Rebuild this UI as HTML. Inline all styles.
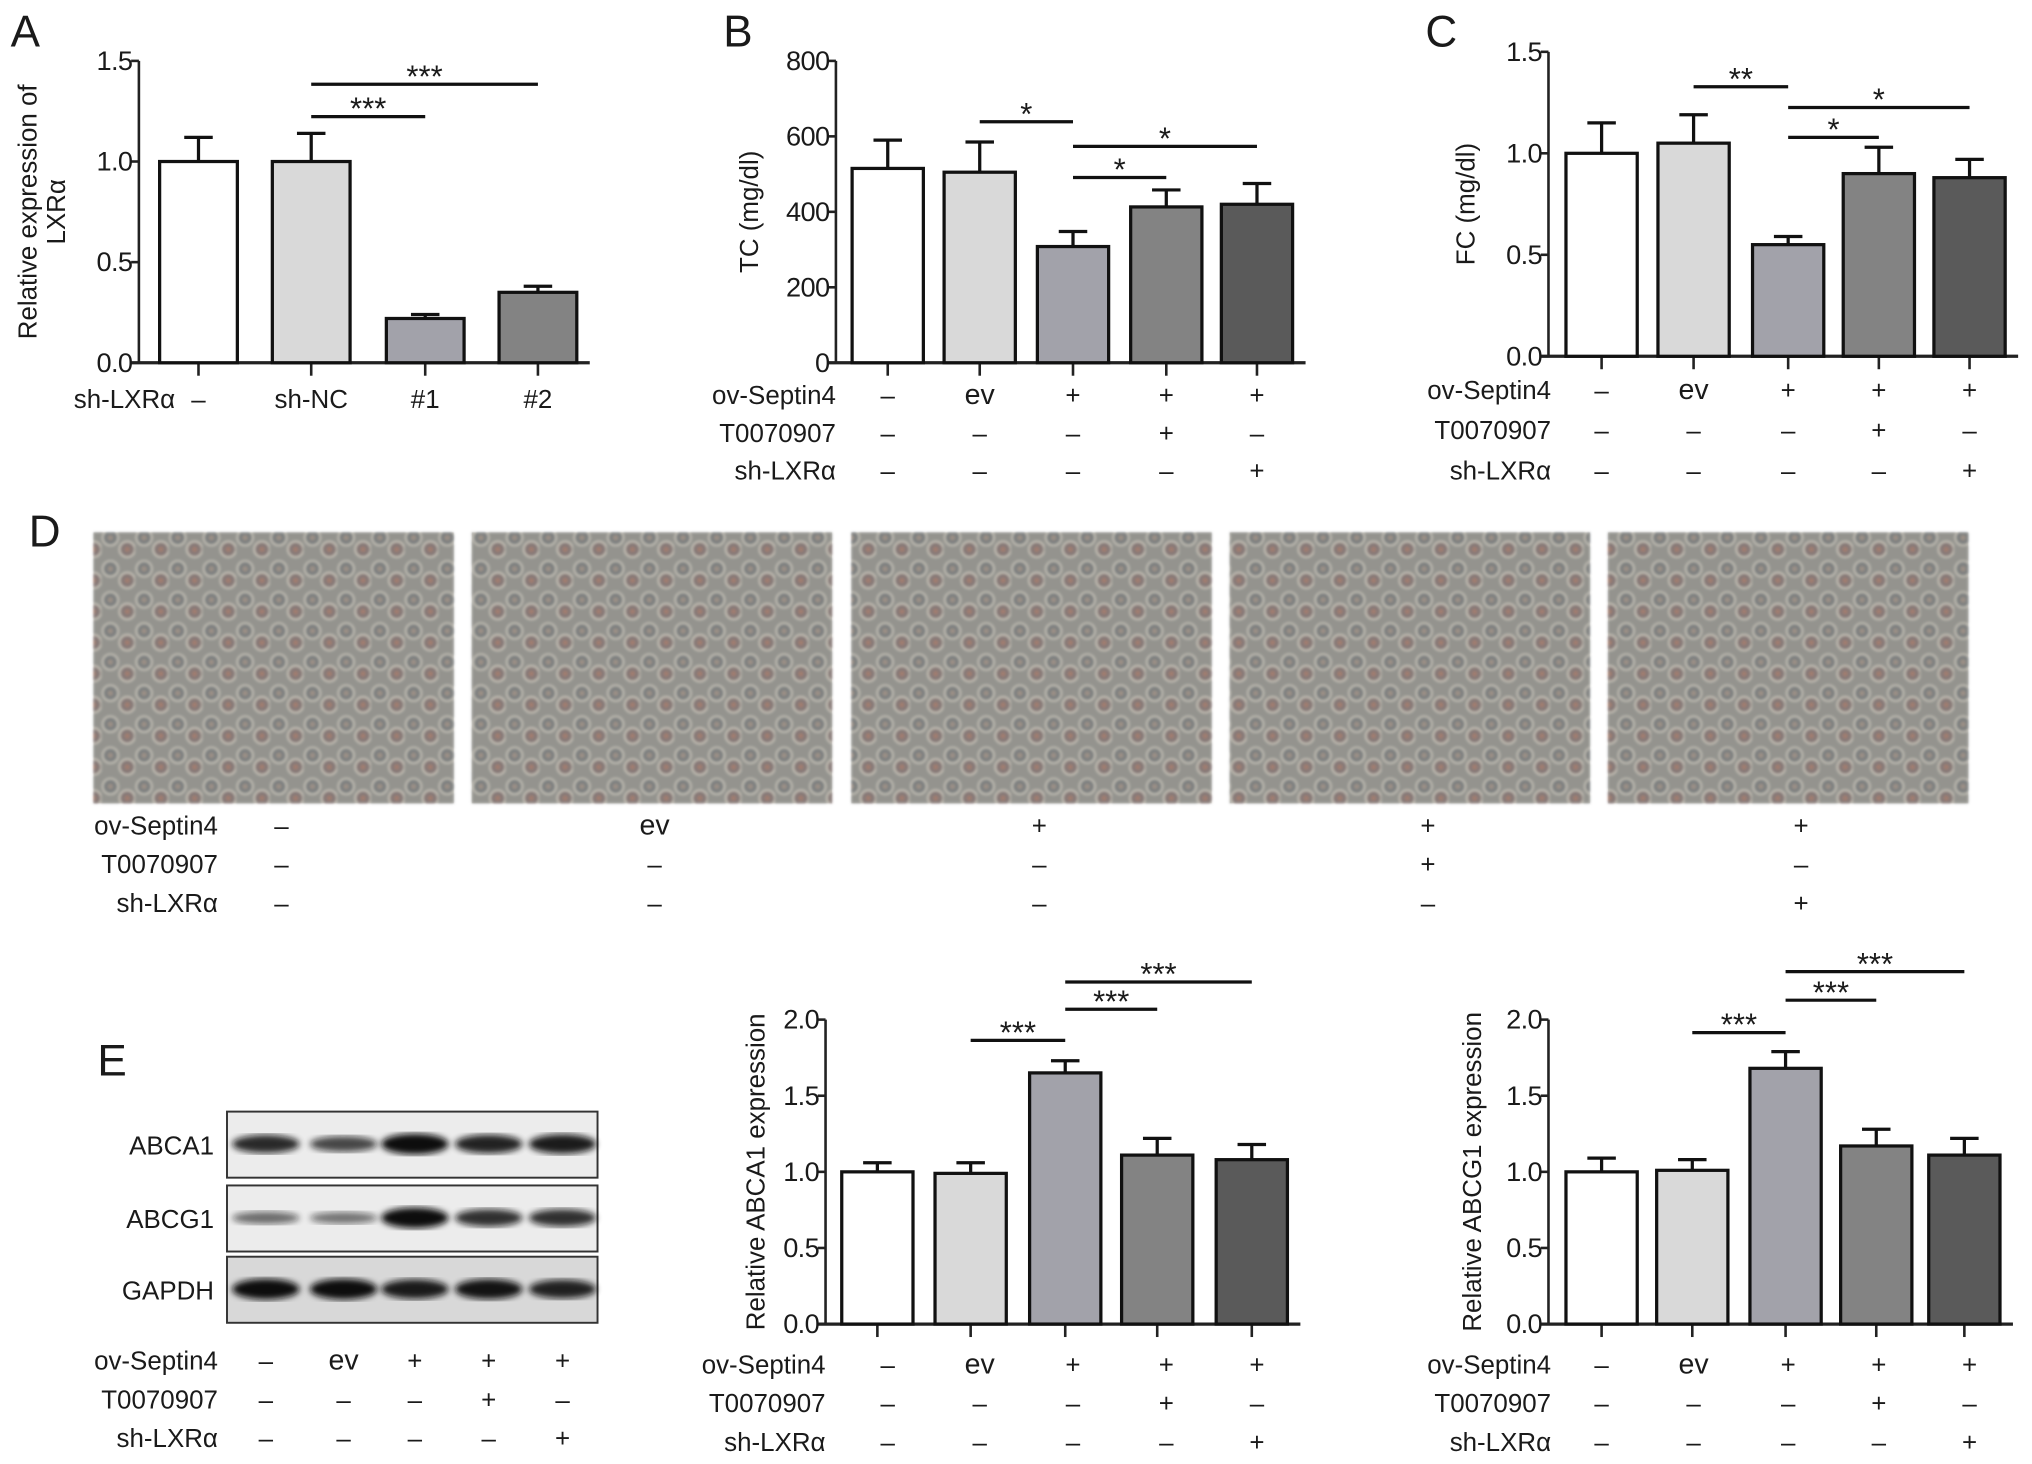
<!DOCTYPE html>
<html><head><meta charset="utf-8"><style>
html,body{margin:0;padding:0;background:#fff}
svg{display:block}
text{font-family:"Liberation Sans",sans-serif;fill:#1a1a1a}
</style></head><body>
<svg id="fig" width="2032" height="1464" viewBox="0 0 1568 1130" xmlns="http://www.w3.org/2000/svg">
<defs>
<pattern id="cells" width="26" height="24" patternUnits="userSpaceOnUse">
<rect width="26" height="24" fill="#8e8f8c"/>
<circle cx="7" cy="7" r="6" fill="#6f7478" stroke="#c9c6bd" stroke-width="1.5"/>
<circle cx="20" cy="16" r="6" fill="#7d6a6c" stroke="#cfcac0" stroke-width="1.5"/>
<circle cx="7" cy="7" r="2" fill="#9a8a80"/>
<circle cx="20" cy="16" r="2" fill="#a07060"/>
</pattern>
<filter id="blur"><feGaussianBlur stdDeviation="2.5"/></filter>
<filter id="soft"><feGaussianBlur stdDeviation="1"/></filter>
</defs>
<g id="root"></g>
</svg>
<script>
const NS="http://www.w3.org/2000/svg";
const root=document.getElementById('root');
function el(tag,attrs,parent,txt){const e=document.createElementNS(NS,tag);for(const k in attrs)e.setAttribute(k,attrs[k]);if(txt!==undefined)e.textContent=txt;(parent||root).appendChild(e);return e;}

// ---- data ----
const fills=["#ffffff","#d9d9d9","#a2a2aa","#838383","#5a5a5a"];
const aCats=["–","sh-NC","#1","#2"];
const aVals=[1.0,1.0,0.22,0.35];
const aErrs=[0.12,0.14,0.02,0.03];
const aTicks=[0,0.5,1.0,1.5];
const bVals=[515,505,308,413,420];
const bErrs=[75,80,40,45,55];
const bTicks=[0,200,400,600,800];
const cVals=[1.0,1.05,0.55,0.9,0.88];
const cErrs=[0.15,0.14,0.04,0.13,0.09];
const cTicks=[0,0.5,1.0,1.5];
const eaVals=[1.0,0.99,1.65,1.11,1.08];
const eaErrs=[0.06,0.07,0.08,0.11,0.1];
const egVals=[1.0,1.01,1.68,1.17,1.11];
const egErrs=[0.09,0.07,0.11,0.11,0.11];
const eTicks=[0,0.5,1.0,1.5,2.0];
const rowOv=["–","ev","+","+","+"];
const rowT=["–","–","–","+","–"];
const rowSh=["–","–","–","–","+"];

function chart(o){
  const g=el('g',{});  
  const max=o.ticks[o.ticks.length-1];
  const y=v=>o.y0-(v/max)*(o.y0-o.yTop);
  el('line',{x1:o.ax,y1:o.yTop,x2:o.ax,y2:o.y0,stroke:'#222','stroke-width':2},g);
  const xEnd=o.xs[o.xs.length-1]+o.bw/2+10;
  el('line',{x1:o.ax-6,y1:o.y0,x2:xEnd,y2:o.y0,stroke:'#222','stroke-width':2.5},g);
  o.ticks.forEach(t=>{
    el('line',{x1:o.ax-6,y1:y(t),x2:o.ax,y2:y(t),stroke:'#222','stroke-width':2},g);
    const tl=el('text',{x:o.ax-5,y:y(t)+7,'text-anchor':'end','font-size':21,'letter-spacing':-0.5},g,o.fmt(t));
    
    
  });
  o.vals.forEach((v,i)=>{
    const x=o.xs[i];
    el('line',{x1:x,y1:o.y0,x2:x,y2:o.y0+10,stroke:'#222','stroke-width':2},g);
    el('line',{x1:x,y1:y(v),x2:x,y2:y(v+o.errs[i]),stroke:'#111','stroke-width':2.5},g);
    el('line',{x1:x-11,y1:y(v+o.errs[i]),x2:x+11,y2:y(v+o.errs[i]),stroke:'#111','stroke-width':2.5},g);
    const b=el('rect',{x:x-o.bw/2,y:y(v),width:o.bw,height:o.y0-y(v),fill:fills[o.fi?o.fi[i]:i],stroke:'#111','stroke-width':2.5},g);
    
    
  });
  const yl=el('text',{transform:`translate(${o.ylx},${(o.yTop+o.y0)/2}) rotate(-90)`,'text-anchor':'middle','font-size':20},g);
  
  
  o.ylabel.forEach((s,k)=>el('tspan',{x:0,dy:k?22:0},yl,s));
  (o.sig||[]).forEach(s=>{
    el('line',{x1:o.xs[s[0]],y1:s[2],x2:o.xs[s[1]],y2:s[2],stroke:'#111','stroke-width':2.5},g);
    el('text',{x:(o.xs[s[0]]+o.xs[s[1]])/2,y:s[2]+2,'text-anchor':'middle','font-size':24},g,s[3]);
  });
}
function rows(labels,lx,xs,ys,name){
  const g=el('g',{});  
  labels.forEach((r,k)=>{
    const t=el('text',{x:lx,y:ys[k]+7,'text-anchor':'end','font-size':20},g,r[0]);
    
    
    r[1].forEach((s,i)=>el('text',{x:xs[i],y:ys[k]+7,'text-anchor':'middle','font-size':s==='ev'?22:20},g,s));
  });
}
function letter(s,x,y){const t=el('text',{x:x,y:y,'font-size':34},root,s);}

const std=[["ov-Septin4",rowOv],["T0070907",rowT],["sh-LXRα",rowSh]];
const f1=t=>t.toFixed(1);

// A
letter('A',8,36);
chart({name:'panel-a-chart',ax:107,yTop:47,y0:280,xs:[153,240,328,415],bw:60,vals:aVals,errs:aErrs,ticks:aTicks,fmt:f1,ylx:28,ylabel:["Relative expression of","LXRα"],sig:[[1,2,90,'***'],[1,3,65,'***']]});
rows([["sh-LXRα",aCats]],135,[153,240,328,415],[308],'panel-a-groups');
// B
letter('B',558,36);
chart({name:'panel-b-chart',ax:645,yTop:47,y0:280,xs:[685,756,828,900,970],bw:55,vals:bVals,errs:bErrs,ticks:bTicks,fmt:t=>String(t),ylx:585,ylabel:["TC (mg/dl)"],sig:[[1,2,94,'*'],[2,3,137,'*'],[2,4,113,'*']]});
rows(std,645,[685,756,828,900,970],[305,334,363],'panel-b-groups');
// C
letter('C',1100,36);
chart({name:'panel-c-chart',ax:1195,yTop:40,y0:275,xs:[1236,1307,1380,1450,1520],bw:55,vals:cVals,errs:cErrs,ticks:cTicks,fmt:f1,ylx:1138,ylabel:["FC (mg/dl)"],sig:[[1,2,67,'**'],[2,3,106,'*'],[2,4,83,'*']]});
rows(std,1197,[1236,1307,1380,1450,1520],[301,332,363],'panel-c-groups');
// D
letter('D',22,422);
[72,364,657,949,1241].forEach((x,i)=>{
  const r=el('rect',{x:x,y:411,width:278,height:209,fill:'url(#cells)',filter:'url(#soft)'});
  
  
  el('rect',{x:x,y:411,width:278,height:209,fill:'#a29e94',opacity:0.3});
});
rows(std,168,[217,505,802,1102,1390],[637,667,697],'panel-d-groups');
// E blot
letter('E',75,830);
const lanes=[205,265,320,377,434];
const bandA=[0.8,0.6,1.0,0.85,0.9], bandG=[0.35,0.3,1.0,0.75,0.75], bandH=[1,1,0.9,0.95,0.85];
[["ABCA1",858,bandA],["ABCG1",915,bandG],["GAPDH",970,bandH]].forEach(b=>{
  const g=el('g',{});  
  el('rect',{x:175,y:b[1],width:286,height:51,fill:b[0]==='GAPDH'?'#d8d8d8':'#ececec',stroke:'#333','stroke-width':1.5},g);
  b[2].forEach((v,i)=>el('ellipse',{cx:lanes[i],cy:b[1]+25,rx:26,ry:3+5*v,fill:'#111',opacity:0.35+0.65*v,filter:'url(#blur)'},g));
  el('text',{x:165,y:b[1]+33,'text-anchor':'end','font-size':20},g,b[0]);
});
rows(std,168,lanes,[1050,1080,1110],'panel-e-blot-groups');
// E ABCA1
chart({name:'abca1-chart',ax:637,yTop:787,y0:1022,xs:[677,749,822,893,966],bw:55,vals:eaVals,errs:eaErrs,ticks:eTicks,fmt:f1,ylx:590,ylabel:["Relative ABCA1 expression"],sig:[[1,2,803,'***'],[2,3,779,'***'],[2,4,758,'***']]});
rows(std,637,[685,756,828,900,970],[1053,1083,1113],'abca1-groups');
// E ABCG1
chart({name:'abcg1-chart',ax:1195,yTop:787,y0:1022,xs:[1236,1306,1378,1448,1516],bw:55,vals:egVals,errs:egErrs,ticks:eTicks,fmt:f1,ylx:1143,ylabel:["Relative ABCG1 expression"],sig:[[1,2,797,'***'],[2,3,772,'***'],[2,4,750,'***']]});
rows(std,1197,[1236,1307,1380,1450,1520],[1053,1083,1113],'abcg1-groups');
</script>
</body></html>
